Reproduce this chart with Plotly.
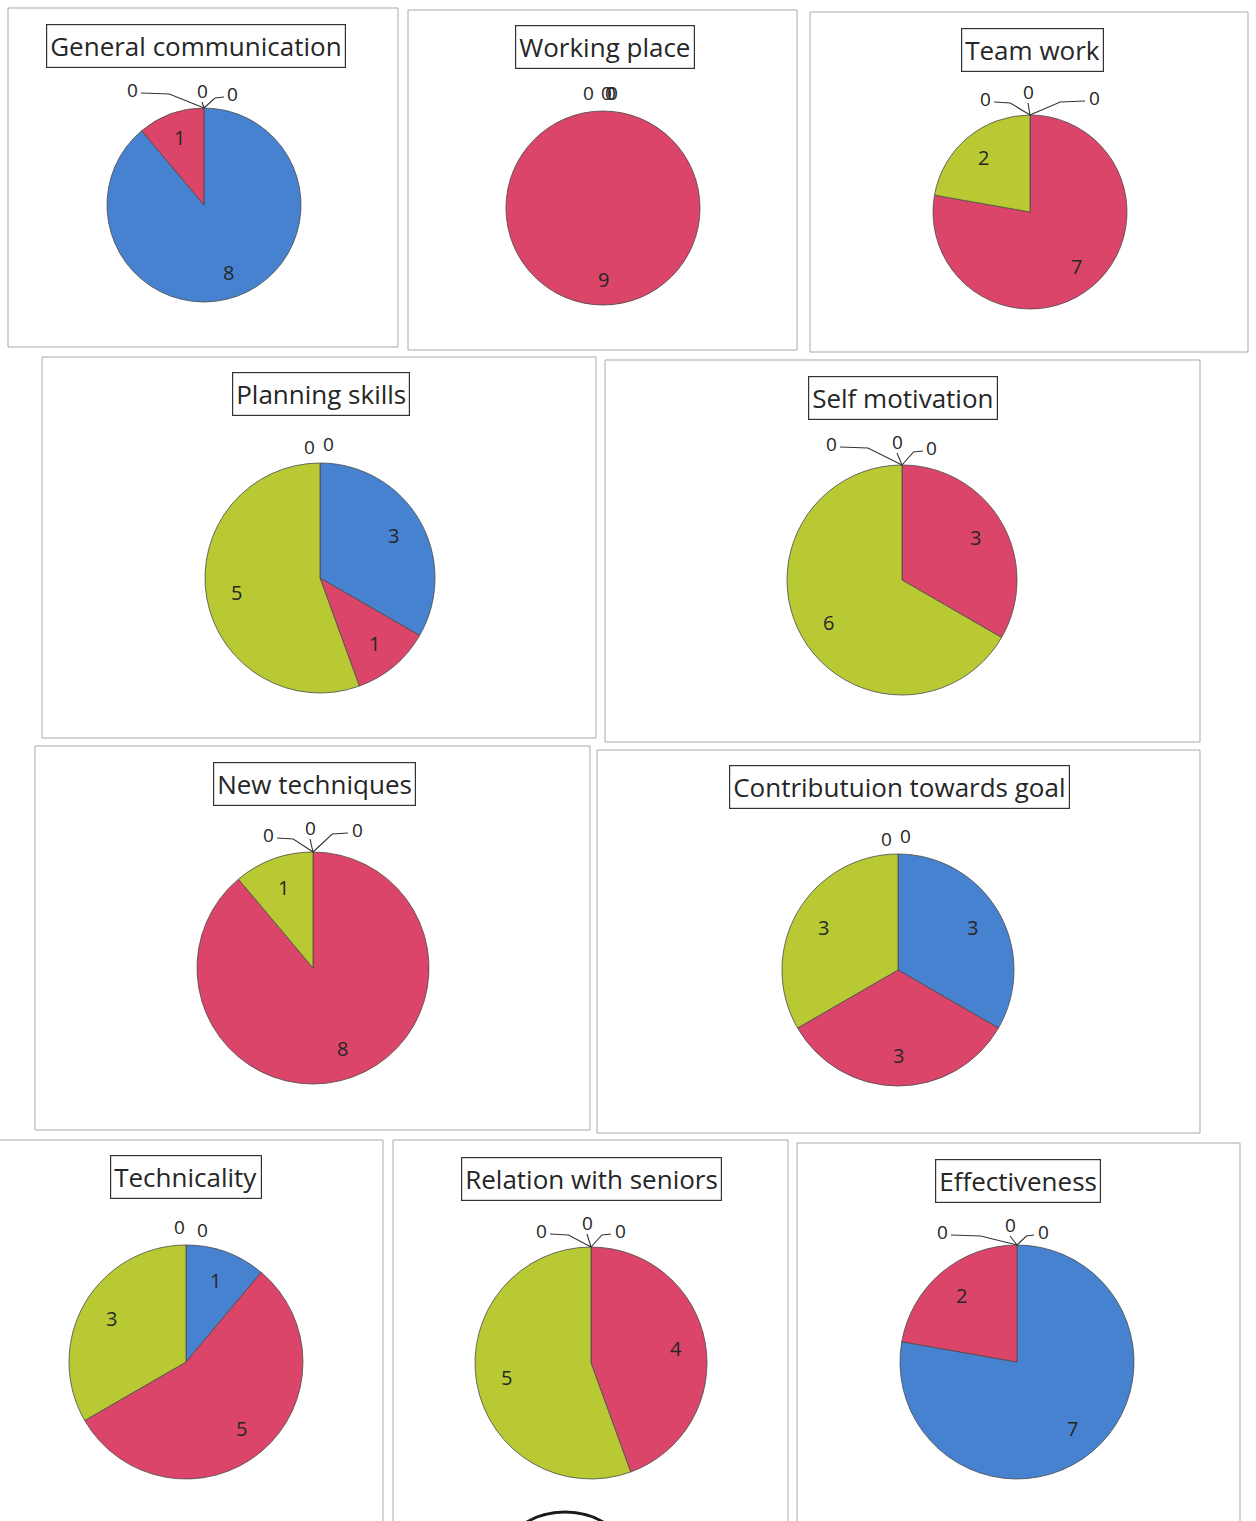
"""Ten small Excel-style pies from a scanned feedback report, one per skill,
each in its own hairline box with a boxed title."""

import math

import plotly.graph_objects as go

W, H = 1256, 1521

# Rating categories (same order in every pie, clockwise from 12 o'clock)
CATEGORIES = ["Excellent", "Very good", "Good", "Average", "Poor"]

TITLES = [
    "General communication",
    "Working place",
    "Team work",
    "Planning skills",
    "Self motivation",
    "New techniques",
    "Contributuion towards goal",
    "Technicality",
    "Relation with seniors",
    "Effectiveness",
]

GENERAL_COMMUNICATION = [8, 1, 0, 0, 0]
WORKING_PLACE = [0, 9, 0, 0, 0]
TEAM_WORK = [0, 7, 2, 0, 0]
PLANNING_SKILLS = [3, 1, 5, 0, 0]
SELF_MOTIVATION = [0, 3, 6, 0, 0]
NEW_TECHNIQUES = [0, 8, 1, 0, 0]
CONTRIBUTION = [3, 3, 3, 0, 0]
TECHNICALITY = [1, 5, 3, 0, 0]
RELATION_WITH_SENIORS = [0, 4, 5, 0, 0]
EFFECTIVENESS = [7, 2, 0, 0, 0]

SERIES = [
    GENERAL_COMMUNICATION, WORKING_PLACE, TEAM_WORK, PLANNING_SKILLS,
    SELF_MOTIVATION, NEW_TECHNIQUES, CONTRIBUTION, TECHNICALITY,
    RELATION_WITH_SENIORS, EFFECTIVENESS,
]

# Styling
INK = "#262626"
FRAME = "#a9a7b3"
COLORS = ["#4682cf", "#db4569", "#b8c933", "#8064a2", "#4bacc6"]
FONT = "Open Sans, sans-serif"
LABEL_RADIUS = 0.74  # Excel "best fit" puts the numbers well out towards the rim
VALUE_SIZE = 20
ZERO_SIZE = 19

# Page layout in screen pixels: outer box, title centre, pie centre + radius
BOXES = [
    (8, 8, 398, 347), (408, 10, 797, 350), (810, 12, 1248, 352),
    (42, 357, 596, 738), (605, 360, 1200, 742),
    (35, 746, 590, 1130), (597, 750, 1200, 1133),
    (-2, 1140, 383, 1530), (393, 1140, 788, 1530), (797, 1143, 1240, 1530),
]
TITLE_POS = [
    (196, 46), (605, 47), (1032, 50),
    (321, 394), (903, 398),
    (314, 784), (900, 787),
    (186, 1177), (591, 1179), (1018, 1181),
]
PIES = [
    (204, 205, 97), (603, 208, 97), (1030, 212, 97),
    (320, 578, 115), (902, 580, 115),
    (313, 968, 116), (898, 970, 116),
    (186, 1362, 117), (591, 1363, 116), (1017, 1362, 117),
]
# Where the "0" labels of empty slices sit, relative to the top of the pie
ZERO_OFFSETS = [
    [(-72, -18), (-2, -17), (29, -14)],
    [(-15, -18), (3, -18), (7, -18), (9, -18)],
    [(-45, -16), (-2, -23), (64, -17)],
    [(-11, -16), (8, -19)],
    [(-71, -21), (-5, -23), (30, -17)],
    [(-45, -17), (-3, -24), (44, -22)],
    [(-12, -15), (7, -18)],
    [(-7, -18), (16, -15)],
    [(-50, -16), (-4, -24), (29, -16)],
    [(-75, -13), (-7, -20), (26, -13)],
]
LEADER = {"color": "#333333", "width": 1.1}


def px(x):
    return x / W


def py(y):
    return 1 - y / H


def text(x, y, s, size, **kw):
    return dict(x=px(x), y=py(y), xref="paper", yref="paper", text=s,
                showarrow=False, xanchor="center", yanchor="middle",
                font={"family": FONT, "size": size, "color": INK}, **kw)


fig = go.Figure()
shapes = []
annotations = []

for i, values in enumerate(SERIES):
    cx, cy, r = PIES[i]
    fig.add_trace(
        go.Pie(
            labels=CATEGORIES,
            values=values,
            sort=False,
            direction="clockwise",
            rotation=0,
            marker={
                "colors": COLORS,
                # empty slices would otherwise leave a stray radius line
                "line": {"color": "#4a4a4a", "width": [0.8 if v else 0 for v in values]},
            },
            textinfo="none",
            domain={"x": [px(cx - r), px(cx + r)], "y": [py(cy + r), py(cy - r)]},
            showlegend=False,
            hoverinfo="label+value",
        )
    )

    # value labels on each slice, along its bisector
    total = sum(values)
    run = 0
    for v in values:
        if v:
            theta = math.radians((run + v / 2) / total * 360)
            annotations.append(text(cx + LABEL_RADIUS * r * math.sin(theta),
                                    cy - LABEL_RADIUS * r * math.cos(theta),
                                    str(v), VALUE_SIZE))
        run += v

    x0, y0, x1, y1 = BOXES[i]
    shapes.append(dict(type="rect", xref="paper", yref="paper",
                       x0=px(x0), x1=px(x1), y0=py(y1), y1=py(y0),
                       line={"color": FRAME, "width": 1}))

    tx, ty = TITLE_POS[i]
    annotations.append(text(tx, ty, TITLES[i], 26, bordercolor="#333333",
                            borderwidth=1.2, borderpad=3, bgcolor="white"))

    # empty slices: Excel still prints their "0" above the pie
    zeros = [v for v in values if v == 0]
    topx, topy = cx, cy - r
    for (dx, dy), v in zip(ZERO_OFFSETS[i], zeros):
        lx, ly = topx + dx, topy + dy
        annotations.append(text(lx, ly, str(v), ZERO_SIZE))
        if len(zeros) != 3:
            continue
        if abs(dx) > 20:
            sx = lx + (9 if dx < 0 else -9)
            mx = sx + (topx - sx) * 0.45
            path = (f"M {px(sx)} {py(ly + 3)} L {px(mx)} {py(ly + 4)} "
                    f"L {px(topx)} {py(topy)}")
            shapes.append(dict(type="path", xref="paper", yref="paper",
                               path=path, line=LEADER))
        else:
            shapes.append(dict(type="line", xref="paper", yref="paper",
                               x0=px(lx), y0=py(ly + 11), x1=px(topx), y1=py(topy),
                               line=LEADER))

# edge of a stamp peeking in at the bottom of the scan
shapes.append(dict(type="circle", xref="paper", yref="paper",
                   x0=px(505), x1=px(625), y0=py(1600), y1=py(1512),
                   line={"color": "#1a1a1a", "width": 3}))

fig.update_layout(
    width=W,
    height=H,
    margin={"l": 0, "r": 0, "t": 0, "b": 0},
    paper_bgcolor="white",
    plot_bgcolor="white",
    shapes=shapes,
    annotations=annotations,
    font={"family": FONT, "color": INK},
)

# the page is the figure: drop the browser's default body margin
fig.write_html("out.html", config={"displayModeBar": False},
               post_script="document.body.style.margin = '0';")
